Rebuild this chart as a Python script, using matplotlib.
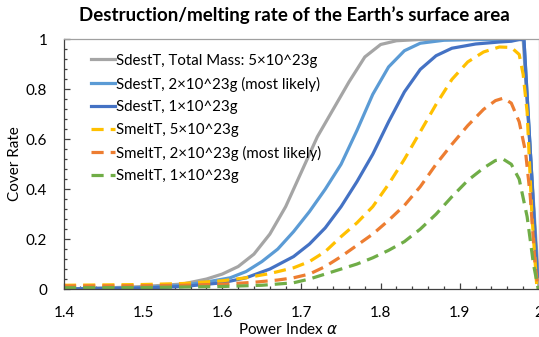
import matplotlib
matplotlib.use("Agg")
import matplotlib.pyplot as plt
from matplotlib.ticker import MultipleLocator

plt.rcParams["font.family"] = ["Lato", "DejaVu Sans"]

# readings (alpha, cover rate)
gray_x = [1.40, 1.45, 1.50, 1.55, 1.58, 1.60, 1.62, 1.64, 1.66, 1.68, 1.70, 1.72, 1.74, 1.76, 1.78, 1.80, 1.82, 1.85, 1.98, 1.99, 2.0]
gray_y = [0.0, 0.004, 0.01, 0.02, 0.04, 0.06, 0.09, 0.14, 0.22, 0.33, 0.47, 0.61, 0.72, 0.83, 0.93, 0.98, 0.995, 1.0, 1.0, 0.5, 0.0]

lblue_x = [1.40, 1.50, 1.55, 1.58, 1.61, 1.63, 1.65, 1.67, 1.69, 1.71, 1.73, 1.75, 1.77, 1.79, 1.81, 1.83, 1.85, 1.88, 1.92, 1.981, 1.998]
lblue_y = [0.0, 0.006, 0.015, 0.028, 0.045, 0.07, 0.11, 0.16, 0.23, 0.31, 0.40, 0.50, 0.635, 0.78, 0.89, 0.955, 0.985, 0.997, 1.0, 1.0, 0.05]

dblue_x = [1.40, 1.50, 1.55, 1.60, 1.63, 1.66, 1.69, 1.71, 1.73, 1.75, 1.77, 1.79, 1.81, 1.83, 1.85, 1.87, 1.89, 1.92, 1.95, 1.965, 1.975, 1.981, 1.998]
dblue_y = [0.0, 0.004, 0.01, 0.025, 0.045, 0.08, 0.13, 0.18, 0.245, 0.33, 0.43, 0.54, 0.67, 0.79, 0.88, 0.935, 0.965, 0.982, 0.99, 0.993, 1.0, 1.0, 0.05]

yel_x = [1.40, 1.50, 1.55, 1.60, 1.63, 1.66, 1.69, 1.71, 1.73, 1.75, 1.77, 1.79, 1.81, 1.83, 1.85, 1.87, 1.89, 1.91, 1.93, 1.95, 1.965, 1.975, 1.98, 1.985, 1.991, 1.997]
yel_y = [0.015, 0.018, 0.022, 0.033, 0.045, 0.062, 0.085, 0.11, 0.15, 0.21, 0.265, 0.33, 0.42, 0.52, 0.63, 0.74, 0.84, 0.91, 0.95, 0.97, 0.968, 0.94, 0.86, 0.71, 0.30, 0.02]

ora_x = [1.40, 1.50, 1.55, 1.60, 1.64, 1.67, 1.69, 1.71, 1.73, 1.75, 1.77, 1.79, 1.81, 1.83, 1.85, 1.87, 1.89, 1.91, 1.93, 1.945, 1.955, 1.965, 1.975, 1.983, 1.989, 1.995, 1.999]
ora_y = [0.012, 0.013, 0.015, 0.019, 0.027, 0.036, 0.045, 0.06, 0.09, 0.13, 0.175, 0.22, 0.275, 0.335, 0.41, 0.50, 0.58, 0.655, 0.72, 0.755, 0.765, 0.745, 0.67, 0.55, 0.37, 0.10, 0.0]

grn_x = [1.40, 1.50, 1.60, 1.65, 1.69, 1.71, 1.73, 1.75, 1.77, 1.79, 1.81, 1.83, 1.85, 1.87, 1.89, 1.91, 1.93, 1.945, 1.955, 1.965, 1.975, 1.985, 1.993, 1.999]
grn_y = [0.005, 0.006, 0.01, 0.015, 0.025, 0.04, 0.06, 0.08, 0.10, 0.125, 0.155, 0.19, 0.24, 0.30, 0.37, 0.435, 0.485, 0.515, 0.52, 0.50, 0.44, 0.29, 0.10, 0.0]

labels = [
    "SdestT, Total Mass: 5\u00d710^23g",
    "SdestT, 2\u00d710^23g (most likely)",
    "SdestT, 1\u00d710^23g",
    "SmeltT, 5\u00d710^23g",
    "SmeltT, 2\u00d710^23g (most likely)",
    "SmeltT, 1\u00d710^23g",
]

fig = plt.figure(figsize=(5.39, 3.37), dpi=100)
ax = fig.add_axes([0.1187, 0.1424, 0.8813, 0.7404])

lw = 2.3
dash = (0, (3.8, 2.2))
ax.plot(gray_x, gray_y, color="#A5A5A5", lw=lw, label=labels[0])
ax.plot(lblue_x, lblue_y, color="#5B9BD5", lw=lw, label=labels[1])
ax.plot(dblue_x, dblue_y, color="#4472C4", lw=lw, label=labels[2])
ax.plot(yel_x, yel_y, color="#FFC000", lw=lw, ls=dash, label=labels[3])
ax.plot(ora_x, ora_y, color="#ED7D31", lw=lw, ls=dash, label=labels[4])
ax.plot(grn_x, grn_y, color="#70AD47", lw=lw, ls=dash, label=labels[5])

ax.set_xlim(1.4, 2.0)
ax.set_ylim(0, 1)
ax.xaxis.set_minor_locator(MultipleLocator(0.02))
ax.yaxis.set_minor_locator(MultipleLocator(0.04))
ax.set_xticks([1.4, 1.5, 1.6, 1.7, 1.8, 1.9, 2.0])
ax.set_xticklabels(["1.4", "1.5", "1.6", "1.7", "1.8", "1.9", "2"])
ax.set_yticks([0, 0.2, 0.4, 0.6, 0.8, 1.0])
ax.set_yticklabels(["0", "0.2", "0.4", "0.6", "0.8", "1"])
ax.tick_params(which="major", direction="in", length=4, width=0.9, labelsize=11, pad=12, color="#404040")
ax.tick_params(which="minor", direction="in", length=2.5, width=0.9, color="#404040")

for s in ["top", "right"]:
    ax.spines[s].set_color("#A0A0A0")
    ax.spines[s].set_linewidth(0.9)
for s in ["left", "bottom"]:
    ax.spines[s].set_color("#404040")
    ax.spines[s].set_linewidth(0.9)

ax.legend(loc="upper left", bbox_to_anchor=(0.034, 0.985), frameon=False, fontsize=10.8,
          handlelength=1.6, handletextpad=0.08, labelspacing=0.58, borderaxespad=0.3)

fig.text(294 / 539, 1 - 15 / 337, "Destruction/melting rate of the Earth\u2019s surface area",
         ha="center", va="center", fontsize=13.5, fontweight="bold")
fig.text(15 / 539, 1 - 164 / 337, "Cover Rate", ha="center", va="center", rotation=90, fontsize=11)
fig.text(288 / 539, 1 - 330 / 337, "Power Index $\\alpha$", ha="center", va="center", fontsize=11)

fig.savefig("out.png", dpi=100)
